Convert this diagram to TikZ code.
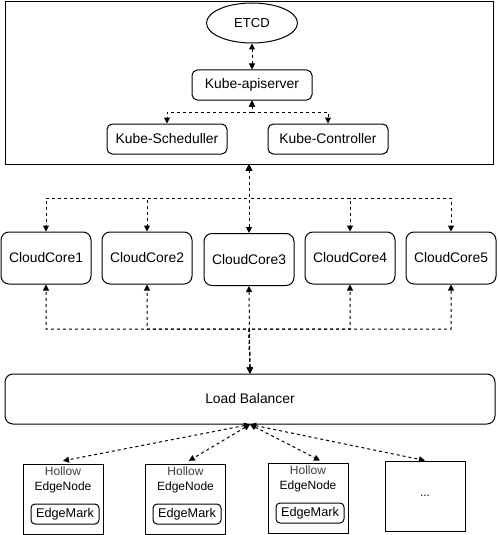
\documentclass[tikz,border=0pt]{standalone}
\usepackage{fontspec}
\setmainfont{Liberation Sans}
\usetikzlibrary{arrows.meta,shapes.geometric}
\definecolor{hollowgray}{RGB}{60,60,75}
\tikzset{>/.tip={Triangle[length=4.5pt,width=4.5pt]},
  txt/.style={font=\fontsize{9}{11.25}\selectfont},
  bigtxt/.style={font=\fontsize{10.4}{12.5}\selectfont},
  kube/.style={bigtxt,draw,rounded corners=4pt,inner sep=0pt,minimum width=90pt,minimum height=22.5pt},
  core/.style={bigtxt,draw,rounded corners=6pt,inner sep=0pt,minimum width=67.5pt,minimum height=39pt},
  hollow/.style={draw,inner sep=0pt,minimum width=60pt,minimum height=52.5pt},
  edgemark/.style={font=\fontsize{9.5}{11.25}\selectfont,draw,rounded corners=3pt,inner sep=0pt,minimum width=51pt,minimum height=15pt},
  link/.style={<->,line width=0.75pt,dash pattern=on 2.25pt off 2.25pt}}

\begin{document}
\begin{tikzpicture}[x=0.75pt,y=-0.75pt,line width=0.75pt]
\useasboundingbox (0,0) rectangle (497,535);
\node[draw,inner sep=0pt,minimum width=366pt,minimum height=121.5pt] (master) at (249,83) {};
\node[font=\fontsize{9.8}{12}\selectfont,draw,ellipse,inner sep=0pt,minimum width=68.25pt,minimum height=30pt] (etcd) at (252,23) {ETCD};
\node[kube] (api) at (252,85) {Kube-apiserver};
\node[kube] (sched) at (167,139) {Kube-Scheduller};
\node[kube] (ctrl) at (328,139) {Kube-Controller};

\node[core] (core1) at (46,258) {CloudCore1};
\node[core] (core2) at (147,258) {CloudCore2};
\node[core] (core3) at (249,259.5) {CloudCore3};
\node[core] (core4) at (350,258) {CloudCore4};
\node[core] (core5) at (451,258) {CloudCore5};

\node[bigtxt,draw,rounded corners=6pt,inner sep=0pt,minimum width=367.5pt,minimum height=37.5pt] (lb) at (250,399) {Load Balancer};

\node[hollow] (h1) at (63,499) {};
\node[hollow] (h2) at (185.5,499) {};
\node[hollow] (h3) at (308,498) {};
\node[hollow,txt] (h4) at (425,496) {...};
\node[txt,align=center] (h1-lbl) at (63,479.5) {\textcolor{hollowgray}{Hollow}\\EdgeNode};
\node[txt,align=center] (h2-lbl) at (185.5,479.5) {\textcolor{hollowgray}{Hollow}\\EdgeNode};
\node[txt,align=center] (h3-lbl) at (308,478.5) {\textcolor{hollowgray}{Hollow}\\EdgeNode};
\node[edgemark] (m1) at (65,514) {EdgeMark};
\node[edgemark] (m2) at (187,514) {EdgeMark};
\node[edgemark] (m3) at (310,513) {EdgeMark};

\coordinate (api-split) at (252,112);
\coordinate (up-split) at (249,198);
\coordinate (down-split) at (249,329);

\path[link] (etcd) edge (api);
\draw[link] (api.south) -- (api-split) -| (sched.north);
\draw[link] (api.south) -- (api-split) -| (ctrl.north);

\path[link] (master.south) edge (core3.north);
\foreach \c in {core1,core2,core4,core5}
  \draw[link] (master.south) -- (up-split) -| (\c.north);
\path[link] (core3.south) edge (lb.north);
\foreach \c in {core1,core2,core4,core5}
  \draw[link] (lb.north) -- (down-split) -| (\c.south);

\path[link] (lb.south) edge ([yshift=2pt]h1.north);
\path[link] (lb.south) edge ([xshift=2.5pt,yshift=2pt]h2.north);
\path[link] (lb.south) edge ([xshift=9pt,yshift=1.5pt]h3.north);
\path[link] (lb.south) edge (h4.north);
\end{tikzpicture}
\end{document}
